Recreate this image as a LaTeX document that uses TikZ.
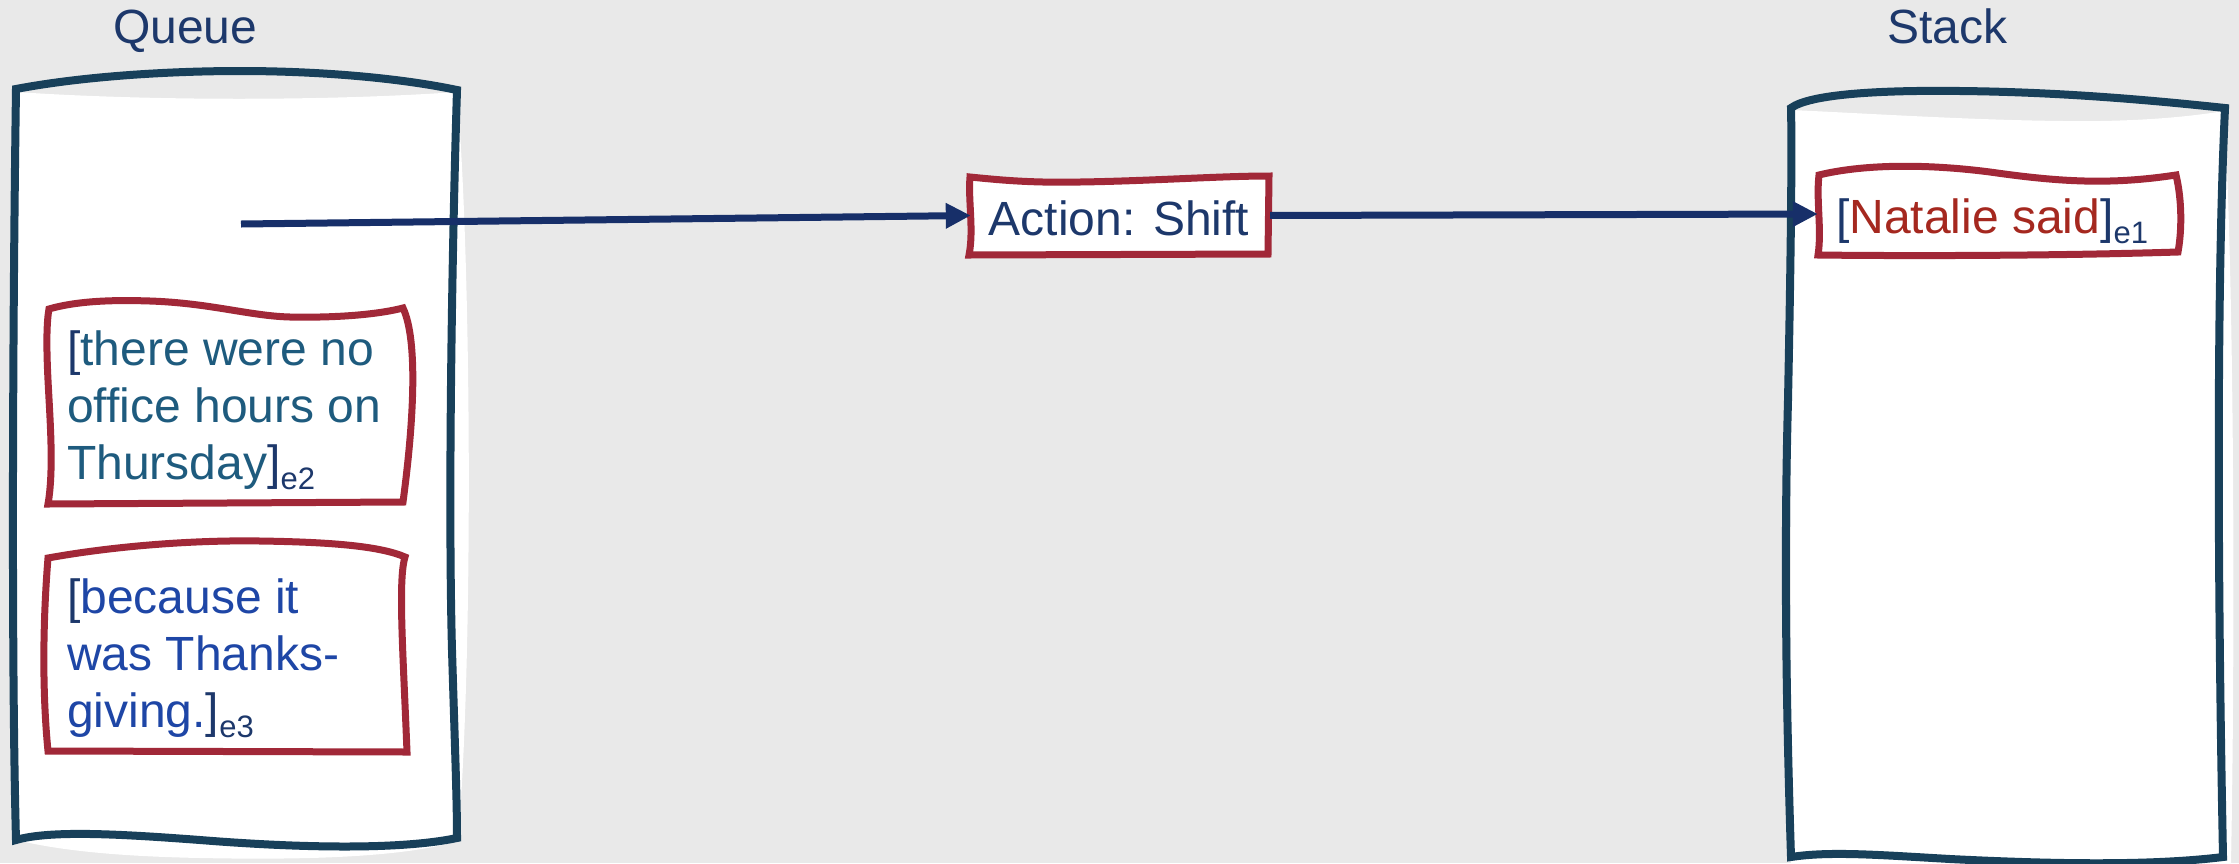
\documentclass[tikz,border=0pt]{standalone}
\usepackage{fontspec}
\setmainfont{Liberation Sans}
\usetikzlibrary{arrows.meta}

\definecolor{bg}{HTML}{E9E9E9}
\definecolor{boxnavy}{HTML}{18405A}
\definecolor{boxred}{HTML}{A12838}
\definecolor{ink}{HTML}{1D386B}
\definecolor{e2col}{HTML}{1E5B7E}
\definecolor{e3col}{HTML}{1E46A6}
\definecolor{natred}{HTML}{A5281F}
\definecolor{arrownavy}{HTML}{172F69}

\newcommand{\mainsz}{\fontsize{48pt}{57pt}\selectfont}
\newcommand{\subtag}[1]{\raisebox{-10pt}{\fontsize{31pt}{31pt}\selectfont\color{ink}#1}}

\tikzset{
  holder/.style={draw=boxnavy, line width=8pt, line join=miter},
  spanbox/.style={draw=boxred, line width=7pt, fill=white, line join=miter},
  conn/.style={draw=arrownavy, line width=7pt, -{Triangle[length=25pt,width=24pt]}},
  txt/.style={anchor=base west, inner sep=0pt, font=\mainsz},
}

\begin{document}
\begin{tikzpicture}[x=1pt,y=-1pt]
  % canvas
  \fill[bg] (0,0) rectangle (2239,863);
  \useasboundingbox (0,0) rectangle (2239,863);

  % queue container: paper fill, then sketched outline
  \fill[white] (16,92) .. controls (150,101) and (330,101) .. (457,92)
    .. controls (471,250) and (474,650) .. (458,841)
    .. controls (400,858) and (300,860) .. (200,858)
    .. controls (100,856) and (50,848) .. (16,840) -- cycle;
  \draw[holder] (16,89) .. controls (90,75) and (180,71) .. (240,71)
    .. controls (320,71) and (400,78) .. (457,90)
    .. controls (452,250) and (448,500) .. (452,650)
    .. controls (455,750) and (457,800) .. (457,838)
    .. controls (400,850) and (300,848) .. (200,840)
    .. controls (120,834) and (50,830) .. (16,840)
    .. controls (11,650) and (13,300) .. (16,89) -- cycle;

  % queued segments
  \draw[spanbox] (49,309) .. controls (80,300) and (120,300) .. (150,301)
    .. controls (210,303) and (250,316) .. (290,317)
    .. controls (340,318) and (380,314) .. (403,308)
    .. controls (418,340) and (414,420) .. (403,502)
    -- (48,504)
    .. controls (54,470) and (50,420) .. (48,380)
    .. controls (46,340) and (47,320) .. (49,309) -- cycle;
  \draw[spanbox] (48,558) .. controls (120,545) and (200,540) .. (260,541)
    .. controls (330,542) and (380,546) .. (405,557)
    .. controls (398,580) and (403,650) .. (407,752)
    -- (48,751)
    .. controls (42,690) and (43,620) .. (48,558) -- cycle;

  % stack container
  \fill[white] (1791,110) .. controls (1880,114) and (2000,122) .. (2100,121)
    .. controls (2160,120) and (2200,115) .. (2224,111)
    .. controls (2233,250) and (2236,600) .. (2231,863)
    -- (1791,863) -- cycle;
  \draw[holder] (1791,108) .. controls (1810,94) and (1880,90) .. (1960,91)
    .. controls (2060,92) and (2150,100) .. (2225,108)
    .. controls (2216,300) and (2218,600) .. (2223,857)
    .. controls (2150,866) and (2050,864) .. (1950,859)
    .. controls (1880,855) and (1830,851) .. (1791,857)
    .. controls (1786,700) and (1784,550) .. (1788,400)
    .. controls (1791,250) and (1792,150) .. (1791,108) -- cycle;

  % segment on the stack
  \draw[spanbox] (1819,175) .. controls (1860,165) and (1920,163) .. (1990,172)
    .. controls (2060,182) and (2110,185) .. (2176,175)
    .. controls (2182,200) and (2182,230) .. (2178,252)
    .. controls (2050,256) and (1900,256) .. (1818,255)
    .. controls (1822,230) and (1816,200) .. (1819,175) -- cycle;

  % action box
  \draw[spanbox] (970,177) .. controls (1000,180) and (1030,183) .. (1080,182)
    .. controls (1150,181) and (1220,176) .. (1269,176)
    -- (1268,254) -- (969,255)
    .. controls (974,230) and (968,200) .. (970,177) -- cycle;

  % labels
  \node[txt, text=ink] (qlabel) at (113,43) {Queue};
  \node[txt, text=ink] (slabel) at (1887,43) {Stack};

  \node[txt, text=e2col] (e2a) at (67,365) {{\color{ink}[}there were no};
  \node[txt, text=e2col] (e2b) at (67,422) {office hours on};
  \node[txt, text=e2col] (e2c) at (67,479) {Thursday{\color{ink}]}\subtag{e2}};

  \node[txt, text=e3col] (e3a) at (67,613) {{\color{ink}[}because it};
  \node[txt, text=e3col] (e3b) at (67,670) {was Thanks-};
  \node[txt, text=e3col] (e3c) at (67,727) {giving.{\color{ink}]}\subtag{e3}};

  \node[inner sep=0pt, minimum width=296pt, minimum height=75pt,
        text height=39pt, text depth=0pt, font=\mainsz, text=ink]
        (act) at (1119,215.5) {Action: Shift};
  \node[inner sep=0pt, minimum width=348pt, minimum height=84pt,
        text height=38pt, text depth=0pt, font=\mainsz, text=natred]
        (nat) at (1992,214) {{\color{ink}[}Natalie said{\color{ink}]}\subtag{e1}};

  % transitions
  \coordinate (qs) at (241,224);
  \draw[conn] (qs) -- (act.west);
  \draw[conn, shorten <=3pt] (act.east) -- (nat.west);
\end{tikzpicture}
\end{document}
